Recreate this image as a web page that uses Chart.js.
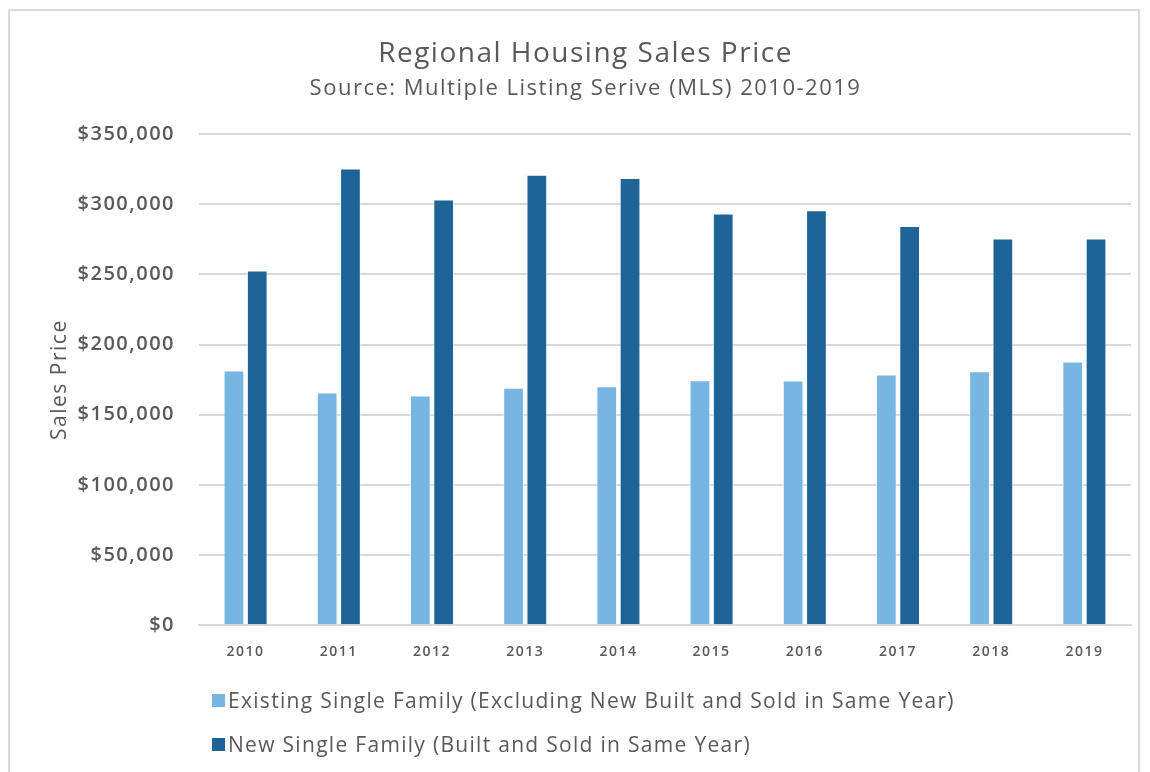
<!DOCTYPE html>
<html>
<head>
<meta charset="utf-8">
<title>Regional Housing Sales Price</title>
<script src="https://cdn.jsdelivr.net/npm/chart.js@4.4.1/dist/chart.umd.min.js"></script>
<style>
  body { margin: 0; background: #fff; }
  #main { position: relative; width: 1150px; height: 772px; overflow: hidden; }
  #frame { position: absolute; left: 8px; top: 9px; width: 1132px; height: 800px; border: 2px solid #d9d9d9; box-sizing: border-box; }
  #barChart { position: absolute; left: 0; top: 0; }
  #legend { position: absolute; left: 212px; top: 678px; font-family: 'Open Sans', sans-serif; font-size: 21px; font-weight: 500; letter-spacing: 1.3px; color: #595959; }
  .item { display: flex; align-items: center; height: 44px; }
  .box { width: 13px; height: 13px; margin-right: 3px; }
</style>
</head>
<body>
<div id="main">
  <div id="frame"></div>
  <canvas id="barChart" width="1150" height="772"></canvas>
  <div id="legend"></div>
</div>
<script>
// years on the x axis
const years = ['2010', '2011', '2012', '2013', '2014', '2015', '2016', '2017', '2018', '2019'];

// median sales price
const existingPrices = [181500, 165800, 163700, 169200, 170300, 174600, 174400, 178600, 181000, 187900];
const newPrices = [252700, 325400, 303300, 320900, 318700, 293300, 295700, 284500, 275500, 275500];

const seriesNames = [
  'Existing Single Family (Excluding New Built and Sold in Same Year)',
  'New Single Family (Built and Sold in Same Year)'
];
const seriesColors = ['#77b5e3', '#1e6497'];

const textColor = '#595959';
const gridColor = '#d9d9d9';
const fontName = 'Open Sans';

// the original font is wider, so spread the letters a bit
const spacing = {
  id: 'spacing',
  beforeUpdate(chart) { chart.ctx.letterSpacing = '1.5px'; },
  beforeDraw(chart) { chart.ctx.letterSpacing = '1.5px'; }
};

const ctx = document.getElementById('barChart');

const chart = new Chart(ctx, {
  type: 'bar',
  data: {
    labels: years,
    datasets: [
      {
        label: seriesNames[0],
        data: existingPrices,
        backgroundColor: seriesColors[0],
        borderColor: 'rgba(255,255,255,0.5)',
        borderWidth: 1,
      },
      {
        label: seriesNames[1],
        data: newPrices,
        backgroundColor: seriesColors[1],
        borderColor: 'rgba(255,255,255,0.5)',
        borderWidth: 1,
      },
    ],
  },
  plugins: [spacing],
  options: {
    responsive: false,
    animation: false,
    datasets: {
      bar: { categoryPercentage: 0.5, barPercentage: 0.89 }
    },
    layout: {
      padding: { left: 40, right: 19, top: 37, bottom: 94 }
    },
    plugins: {
      legend: { display: false },
      tooltip: { enabled: false },
      title: {
        display: true,
        text: 'Regional Housing Sales Price',
        color: textColor,
        font: { family: fontName, size: 28, weight: '500' },
        padding: { top: 0, bottom: 5 }
      },
      subtitle: {
        display: true,
        text: 'Source: Multiple Listing Serive (MLS) 2010-2019',
        color: textColor,
        font: { family: fontName, size: 22, weight: '500' },
        padding: { top: 0, bottom: 32 }
      }
    },
    scales: {
      x: {
        grid: { display: false, drawTicks: false },
        border: { color: gridColor, width: 2 },
        ticks: {
          color: textColor,
          padding: 18,
          font: { family: fontName, size: 14, weight: '600' }
        }
      },
      y: {
        min: 0,
        max: 350000,
        // fixed width so the plot starts where the original does
        afterFit: (scale) => { scale.width = 159; },
        grid: { color: gridColor, lineWidth: 2, drawTicks: false },
        border: { display: false },
        ticks: {
          stepSize: 50000,
          color: textColor,
          padding: 24,
          font: { family: fontName, size: 20, weight: '600' },
          callback: (v) => '$' + v.toLocaleString('en-US')
        },
        title: {
          display: true,
          text: 'Sales Price',
          color: textColor,
          font: { family: fontName, size: 21, weight: '500' },
          padding: { top: 7, bottom: 4 }
        }
      }
    }
  }
});

// legend under the chart, one series per line
const legendDiv = document.getElementById('legend');
chart.data.datasets.forEach((ds) => {
  const row = document.createElement('div');
  row.className = 'item';
  const box = document.createElement('span');
  box.className = 'box';
  box.style.background = ds.backgroundColor;
  const label = document.createElement('span');
  label.textContent = ds.label;
  row.appendChild(box);
  row.appendChild(label);
  legendDiv.appendChild(row);
});
</script>
</body>
</html>
